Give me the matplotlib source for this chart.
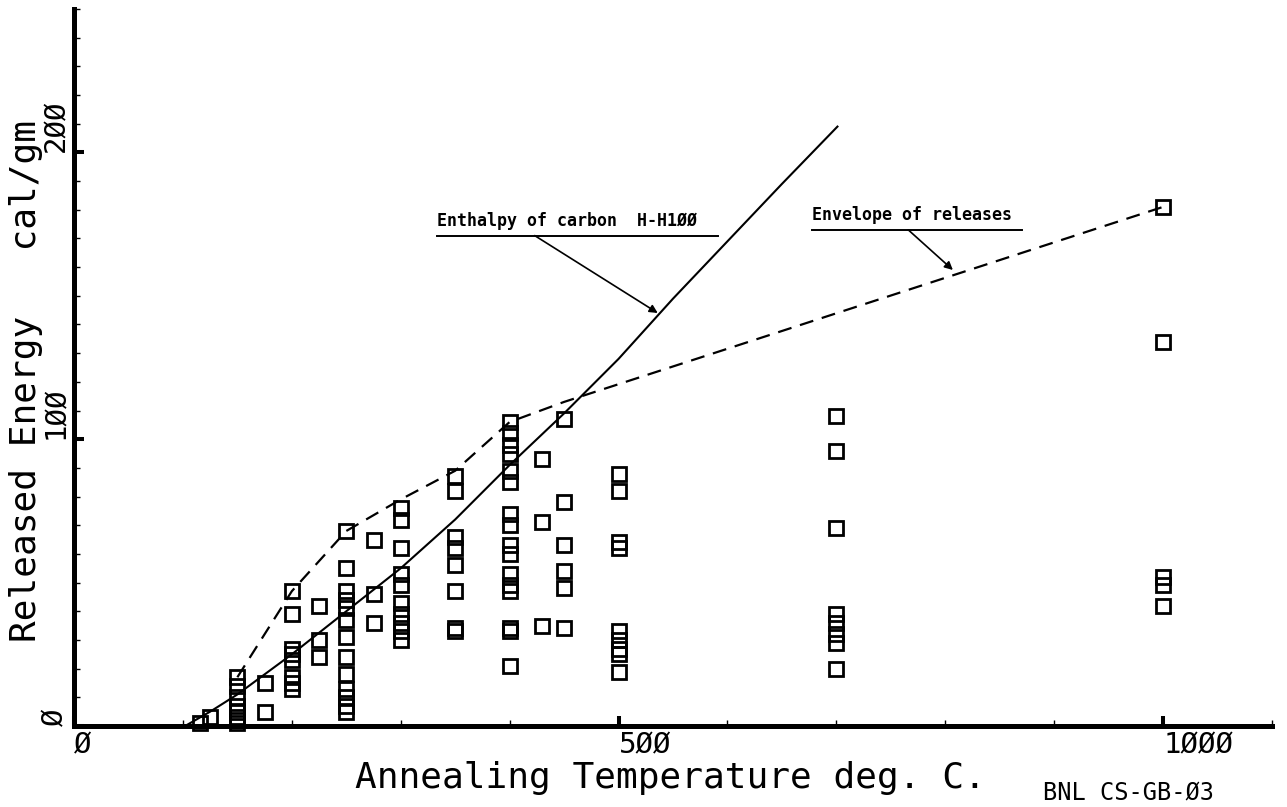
import matplotlib.pyplot as plt
from matplotlib.ticker import MultipleLocator

# anneal temperature (deg C) of each column of samples, and the energies read at it
anneal_temps = [116, 125, 150, 175, 200, 225, 250, 275, 300, 350, 400, 430, 450, 500, 700, 1000]
released = [
    [1],
    [3],
    [17, 14, 10, 7, 5, 3, 1],
    [15, 5],
    [47, 39, 27, 25, 23, 17, 15, 13],
    [42, 30, 24],
    [68, 55, 47, 44, 41, 37, 31, 24, 18, 13, 10, 7, 5],
    [65, 46, 36],
    [76, 72, 62, 53, 49, 43, 39, 36, 33, 30],
    [87, 82, 66, 62, 56, 47, 34, 33],
    [106, 102, 98, 95, 89, 85, 74, 70, 63, 60, 53, 49, 47, 34, 33, 21],
    [93, 71, 35],
    [107, 78, 63, 54, 48, 34],
    [88, 82, 64, 62, 33, 30, 27, 25, 19],
    [108, 96, 69, 39, 36, 32, 29, 20],
    [181, 134, 52, 49, 42],
]

# enthalpy of carbon curve (solid)
enthalpy_t = [102, 125, 150, 200, 250, 300, 350, 400, 450, 500, 550, 600, 650, 701]
enthalpy_e = [0, 5, 11, 25, 40, 55, 72, 91, 109, 128, 149, 169, 189, 209]

# envelope of releases (dashed)
envelope_t = [150, 200, 250, 300, 350, 400, 450, 1000]
envelope_e = [17, 47, 68, 79, 89, 106, 113, 181]

x_ticks = [0, 500, 1000]
x_ticklabels = ['Ø', '5ØØ', '1ØØØ']
y_ticks = [0, 100, 200]
y_ticklabels = ['Ø', '1ØØ', '2ØØ']

pts_t = [t for t, vals in zip(anneal_temps, released) for v in vals]
pts_e = [v for vals in released for v in vals]

mono = 'DejaVu Sans Mono'

fig = plt.figure(figsize=(12.87, 8.07), dpi=100)
ax = fig.add_axes([74 / 1287, 81 / 807, 1198 / 1287, 717 / 807])

ax.plot(enthalpy_t, enthalpy_e, color='black', lw=1.5, zorder=2)
ax.plot(envelope_t, envelope_e, color='black', lw=1.6, ls=(0, (6.3, 4)), zorder=2)
ax.plot(pts_t, pts_e, 's', ms=9.5, mfc='none', mec='black', mew=2.0, zorder=3, clip_on=False)

ax.set_xlim(0, 1100)
ax.set_ylim(0, 250)
for s in ['top', 'right']:
    ax.spines[s].set_visible(False)
for s in ['left', 'bottom']:
    ax.spines[s].set_linewidth(3.6)
    ax.spines[s].set_capstyle('projecting')

ax.set_xticks(x_ticks)
ax.set_xticklabels(x_ticklabels, fontfamily=mono, fontsize=21, ha='left')
ax.xaxis.set_minor_locator(MultipleLocator(100))
ax.set_yticks(y_ticks)
ax.set_yticklabels(y_ticklabels, fontfamily=mono, fontsize=21, rotation=90,
                   va='bottom', ha='right')
ax.yaxis.set_minor_locator(MultipleLocator(10))
ax.tick_params(which='major', direction='in', length=7, width=2.9, pad=4)
ax.tick_params(which='minor', direction='in', length=4.3, width=1.0)
ax.tick_params(axis='y', which='major', pad=3)

# hand-lettered style callouts
ax.text(333, 173, 'Enthalpy of carbon  H-H1ØØ', fontfamily=mono, fontweight='bold',
        fontsize=12, ha='left', va='bottom')
ax.plot([333, 591], [171, 171], color='black', lw=1.4)
ax.annotate('', xy=(536, 144), xytext=(423, 171),
            arrowprops=dict(arrowstyle='-|>', color='black', lw=1.2,
                            mutation_scale=12, shrinkA=0, shrinkB=0))

ax.text(678, 175, 'Envelope of releases', fontfamily=mono, fontweight='bold',
        fontsize=12, ha='left', va='bottom')
ax.plot([678, 870], [173, 173], color='black', lw=1.4)
ax.annotate('', xy=(807, 159), xytext=(766, 173),
            arrowprops=dict(arrowstyle='-|>', color='black', lw=1.2,
                            mutation_scale=12, shrinkA=0, shrinkB=0))

fig.text(670 / 1287, 1 - 778 / 807, 'Annealing Temperature deg. C.',
         fontfamily=mono, fontsize=26, ha='center', va='center')
fig.text(26 / 1287, 1 - 381 / 807, 'Released Energy   cal/gm',
         fontfamily=mono, fontsize=26, rotation=90, ha='center', va='center')
fig.text(1043 / 1287, 1 - 793 / 807, 'BNL CS-GB-Ø3',
         fontfamily=mono, fontsize=17, ha='left', va='center')

fig.savefig('out.png', dpi=100)
